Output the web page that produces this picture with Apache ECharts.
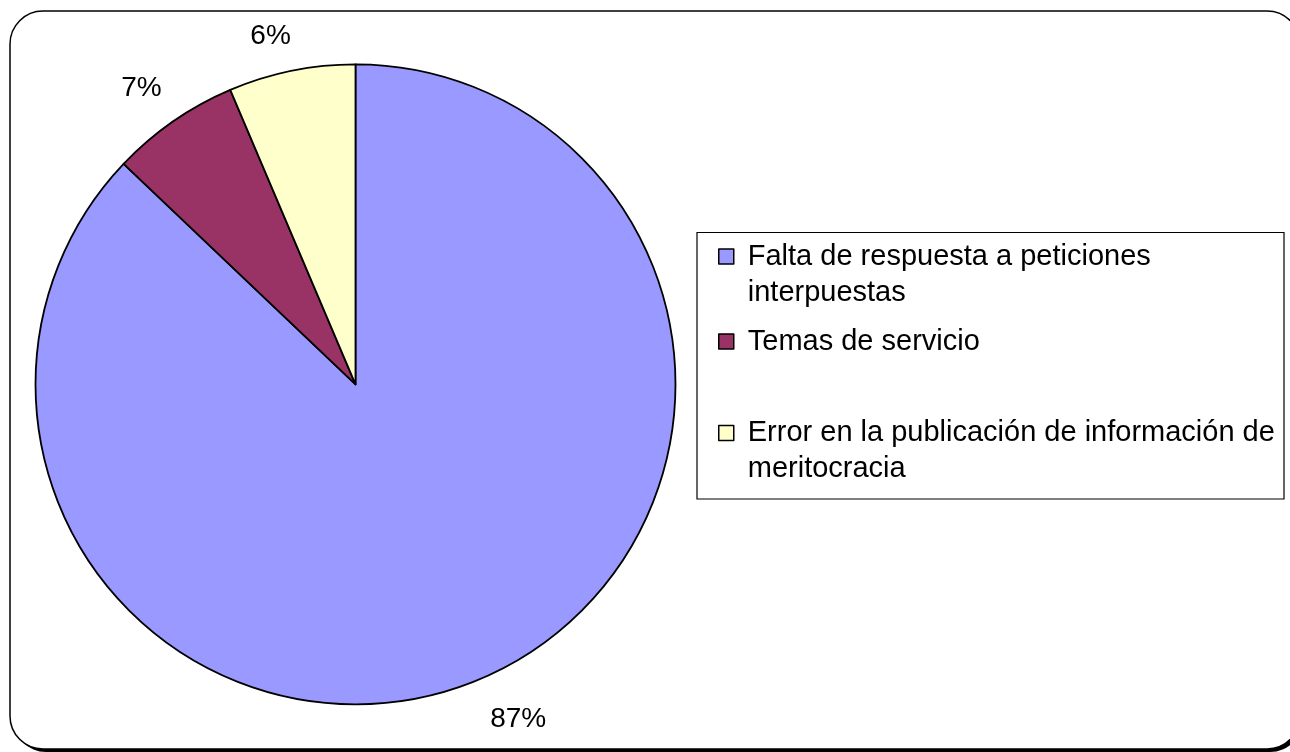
<!DOCTYPE html>
<html>
<head>
<meta charset="utf-8">
<script src="https://cdn.jsdelivr.net/npm/echarts@6/dist/echarts.min.js"></script>
<style>html,body{margin:0;padding:0;background:#fff;}#c{width:1290px;height:752px;}</style>
</head>
<body>
<div id="c"></div>
<script>
// Data
const categories = ['Falta de respuesta a peticiones interpuestas', 'Temas de servicio', 'Error en la publicación de información de meritocracia'];
const legendLabels = ['Falta de respuesta a peticiones\ninterpuestas', 'Temas de servicio', 'Error en la publicación de información de\nmeritocracia'];
const values = [87.1, 6.5, 6.4];
const colors = ['#9999FF', '#993366', '#FFFFCC'];

// Label placement styles
const labelLen = [52, 45, 40];
const labelDx = [16, -6, -13];
const labelDy = [-7, 4, 5];
const legendTops = [202.5, 323.5, 379];

const FONT = "'Liberation Sans', Arial, sans-serif";
const chart = echarts.init(document.getElementById('c'), null, {renderer: 'canvas'});

const data = categories.map((n, i) => ({
  name: n,
  value: values[i],
  itemStyle: {color: colors[i]},
  labelLine: {show: false, length: labelLen[i], length2: 0}
}));

const legends = categories.map((n, i) => ({
  data: [n],
  orient: 'vertical',
  left: 718,
  top: legendTops[i],
  padding: 0,
  itemWidth: 15,
  itemHeight: 15,
  icon: 'rect',
  selectedMode: false,
  itemStyle: {borderColor: '#000', borderWidth: 1.5},
  // a leading empty line keeps the icon level with the first text line
  formatter: () => (legendLabels[i].indexOf('\n') >= 0 ? '\u00a0\n' : '') + legendLabels[i],
  textStyle: {
    fontFamily: FONT, fontSize: 29, color: '#000', lineHeight: 36,
    padding: [0, 0, 0, 9]
  }
}));

chart.setOption({
  animation: false,
  backgroundColor: '#fff',
  graphic: [
    {type: 'rect', z: -10, shape: {x: 13, y: 14, width: 1290, height: 738, r: 33}, style: {fill: '#000'}},
    {type: 'rect', z: -9, shape: {x: 10, y: 11, width: 1290, height: 738, r: 33}, style: {fill: '#fff', stroke: '#000', lineWidth: 1.5}},
    {type: 'rect', z: -8, shape: {x: 697, y: 232.5, width: 587, height: 266.5}, style: {fill: '#fff', stroke: '#000', lineWidth: 1.2}}
  ],
  legend: legends,
  series: [{
    type: 'pie',
    center: [355.5, 384.3],
    radius: 320,
    startAngle: 90,
    clockwise: true,
    avoidLabelOverlap: false,
    silent: true,
    data: data,
    itemStyle: {borderColor: '#000', borderWidth: 1.8},
    label: {
      show: true,
      position: 'outside',
      distanceToLabelLine: 0,
      fontFamily: FONT,
      fontSize: 28,
      color: '#000',
      formatter: p => Math.round(p.percent) + '%'
    },
    labelLayout: p => ({align: 'center', verticalAlign: 'middle', dx: labelDx[p.dataIndex], dy: labelDy[p.dataIndex]}),
    emphasis: {disabled: true}
  }]
});
</script>
</body>
</html>
